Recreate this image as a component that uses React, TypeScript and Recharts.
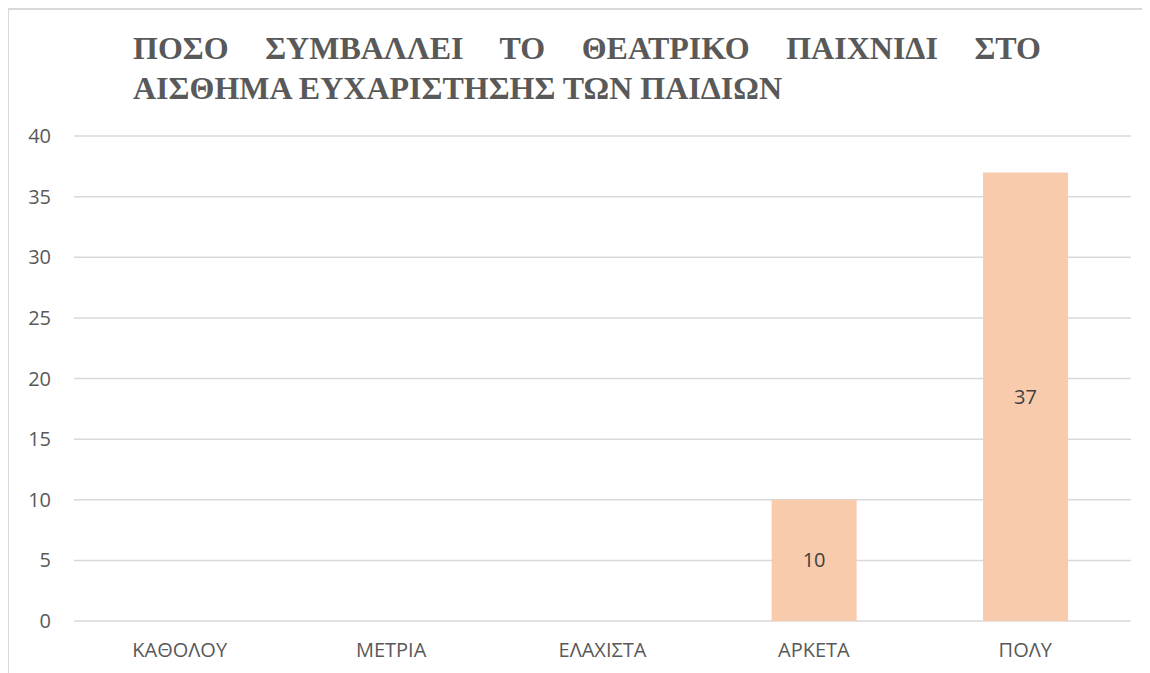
import { Bar, BarChart, CartesianGrid, LabelList, XAxis, YAxis } from 'recharts';

const categories = ['ΚΑΘΟΛΟΥ', 'ΜΕΤΡΙΑ', 'ΕΛΑΧΙΣΤΑ', 'ΑΡΚΕΤΑ', 'ΠΟΛΥ'];
const counts = [0, 0, 0, 10, 37];
const yTicks = [0, 5, 10, 15, 20, 25, 30, 35, 40];
const titleLines = ['ΠΟΣΟ ΣΥΜΒΑΛΛΕΙ ΤΟ ΘΕΑΤΡΙΚΟ ΠΑΙΧΝΙΔΙ ΣΤΟ', 'ΑΙΣΘΗΜΑ ΕΥΧΑΡΙΣΤΗΣΗΣ ΤΩΝ ΠΑΙΔΙΩΝ'];

const data = categories.map((name, i) => ({ name, value: counts[i] }));

const tickStyle = { fill: '#595959', fontSize: 20, fontFamily: '"Open Sans", sans-serif' };

export default function App() {
  return (
    <div style={{ position: 'relative', width: 1142, height: 665, borderLeft: '2px solid #d9d9d9', borderTop: '2px solid #d9d9d9', boxSizing: 'border-box', marginLeft: -1, background: '#fff' }}>
      <div style={{ position: 'absolute', left: 124, top: 18, width: 908, fontFamily: '"Liberation Serif", serif', fontWeight: 700, fontSize: 32, color: '#595959', lineHeight: '40px' }}>
        <div style={{ textAlign: 'justify', textAlignLast: 'justify' }}>{titleLines[0]}</div>
        <div>{titleLines[1]}</div>
      </div>
      <BarChart width={1140} height={663} data={data} barCategoryGap="30%" margin={{ top: 126, right: 18, bottom: 0, left: 0 }}>
        <CartesianGrid vertical={false} stroke="#d9d9d9" strokeWidth={1.5} />
        <XAxis dataKey="name" axisLine={false} tickLine={false} tickSize={0} tickMargin={22} height={52} tick={tickStyle} />
        <YAxis domain={[0, 40]} ticks={yTicks} axisLine={false} tickLine={false} tickSize={0} tickMargin={23} width={65} tick={tickStyle} />
        <Bar dataKey="value" fill="#f8cbad" isAnimationActive={false}>
          <LabelList dataKey="value" position="center" fill="#404040" fontSize={20} fontFamily='"Open Sans", sans-serif' formatter={(v: number) => (v ? v : '')} />
        </Bar>
      </BarChart>
    </div>
  );
}
